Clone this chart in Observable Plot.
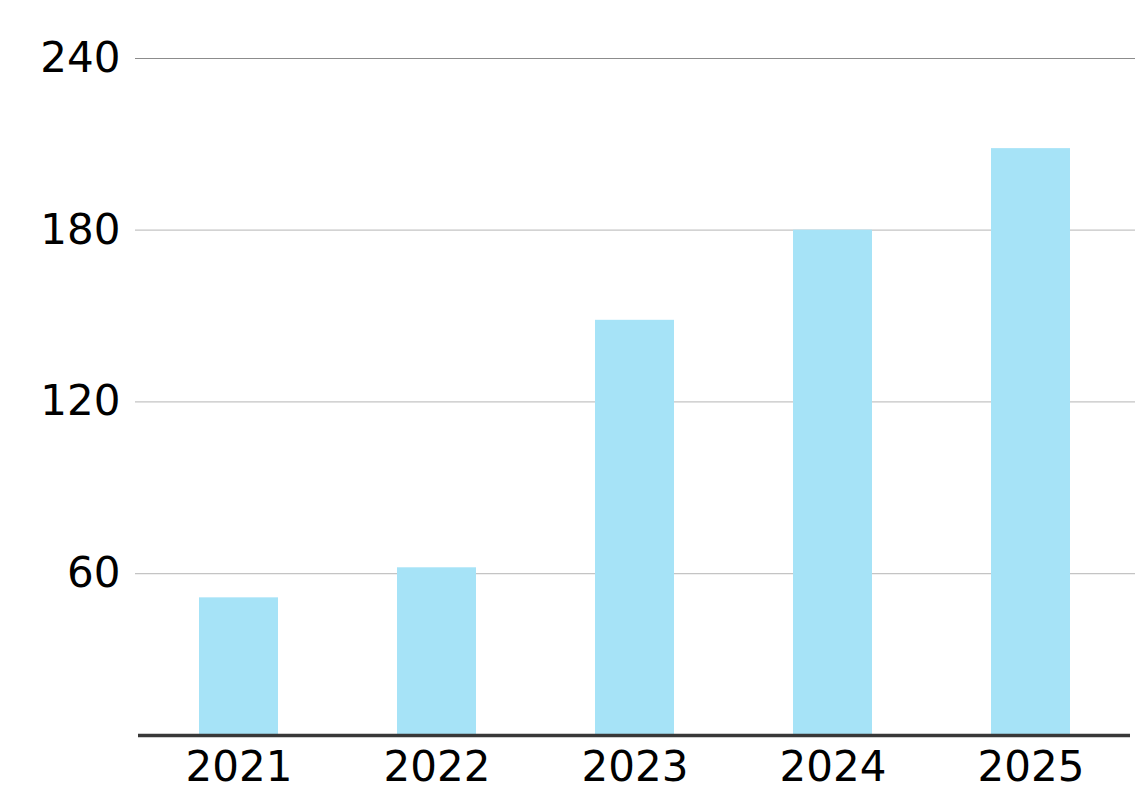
<!DOCTYPE html>
<html>
<head>
<meta charset="utf-8">
<script src="https://cdn.jsdelivr.net/npm/d3@7"></script>
<script src="https://cdn.jsdelivr.net/npm/@observablehq/plot@0.6"></script>
<style>
  html, body { margin: 0; padding: 0; background: #fff; }
  #chart svg { display: block; }
</style>
</head>
<body>
<div id="chart"></div>
<script>
const years = ["2021", "2022", "2023", "2024", "2025"];
const values = [51.5, 62, 148.5, 180, 208.5];
const yTicks = [60, 120, 180, 240];

const data = years.map((year, i) => ({year, value: values[i]}));

const chart = Plot.plot({
  width: 1138,
  height: 792,
  marginLeft: 135,
  marginRight: 3,
  marginTop: 20,
  marginBottom: 57,
  style: {fontFamily: "DejaVu Sans, Verdana, sans-serif", fontSize: "42px", color: "#000", background: "#fff", overflow: "visible"},
  x: {domain: years, range: [197.7, 1070.7], paddingInner: 0.6, paddingOuter: 0, label: null},
  y: {domain: [0, 240], range: [744.7, 58], label: null},
  marks: [
    Plot.ruleY(yTicks, {stroke: d => d === 240 ? "#8c8c8c" : "#c4c4c4", strokeWidth: 1.2}),
    Plot.barY(data, {x: "year", y: "value", fill: "#a6e3f7", clip: true}),
    Plot.ruleY([0], {dy: -9.7, insetLeft: 3, insetRight: 5, stroke: "#383838", strokeWidth: 3.5}),
    Plot.axisY({ticks: yTicks, tickSize: 0, tickPadding: 15, fontSize: 42, label: null}),
    Plot.axisX({tickSize: 0, tickPadding: 16, fontSize: 42, label: null})
  ]
});
document.getElementById("chart").appendChild(chart);
</script>
</body>
</html>
